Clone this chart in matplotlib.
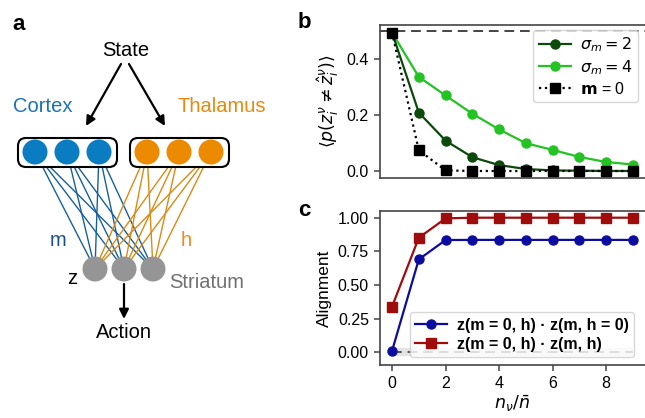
import numpy as np
import matplotlib
matplotlib.use("Agg")
import matplotlib.pyplot as plt
from matplotlib.patches import Circle, FancyBboxPatch

plt.rcParams['font.family'] = ['Liberation Sans', 'DejaVu Sans']
plt.rcParams['mathtext.fontset'] = 'dejavusans'

# ---------------- data ----------------
x_vals = [0, 1, 2, 3, 4, 5, 6, 7, 8, 9]
err_sigma2 = [0.493, 0.208, 0.108, 0.049, 0.021, 0.007, 0.002, 0.001, 0.0, 0.0]
err_sigma4 = [0.493, 0.335, 0.269, 0.204, 0.148, 0.099, 0.075, 0.050, 0.032, 0.023]
err_m0 = [0.493, 0.074, 0.002, 0.0, 0.0, 0.0, 0.0, 0.0, 0.0, 0.0]
chance_level = 0.5

align_h0 = [0.01, 0.69, 0.834, 0.835, 0.835, 0.835, 0.835, 0.835, 0.835, 0.835]
align_full = [0.339, 0.851, 0.995, 1.0, 1.0, 1.0, 1.0, 1.0, 1.0, 1.0]
baseline = 0.0

b_labels = [r'$\sigma_m = 2$', r'$\sigma_m = 4$', r'$\mathbf{m}$ = 0']
c_labels = ['z(m = 0, h) \u00b7 z(m, h = 0)', 'z(m = 0, h) \u00b7 z(m, h)']
b_yticks = [0.0, 0.2, 0.4]
c_yticks = [0.0, 0.25, 0.5, 0.75, 1.0]
x_ticks = [0, 2, 4, 6, 8]

W, H = 645, 418
fig = plt.figure(figsize=(W / 100, H / 100), dpi=100)

# ---------------- panel a (schematic) ----------------
axa = fig.add_axes([0, 0, 300 / W, 1])
axa.set_xlim(0, 300)
axa.set_ylim(H, 0)
axa.axis('off')

ctx_col = '#0a7cc2'
thal_col = '#ec8a00'
str_col = '#959595'
ctx_line = '#17609a'
thal_line = '#da8a14'

ctx_x = [35, 67, 99]
thal_x = [147, 179, 211]
top_y = 152
str_x = [95, 124, 153]
str_y = 269

for cx in ctx_x:
    for sx in str_x:
        axa.plot([cx, sx], [top_y, str_y], color=ctx_line, lw=1.0, zorder=1)
for cx in thal_x:
    for sx in str_x:
        axa.plot([cx, sx], [top_y, str_y], color=thal_line, lw=1.0, zorder=1)

for x0 in (18, 130):
    box = FancyBboxPatch((x0 + 4, 138 + 4), 99 - 8, 29 - 8,
                         boxstyle='round,pad=4,rounding_size=8',
                         fc='white', ec='black', lw=1.5, zorder=2)
    axa.add_patch(box)
for cx in ctx_x:
    axa.add_patch(Circle((cx, top_y), 12.5, fc=ctx_col, ec='none', zorder=3))
for cx in thal_x:
    axa.add_patch(Circle((cx, top_y), 12.5, fc=thal_col, ec='none', zorder=3))
for sx in str_x:
    axa.add_patch(Circle((sx, str_y), 12.5, fc=str_col, ec='none', zorder=3))

ap = dict(arrowstyle='-|>', lw=1.6, color='black', mutation_scale=14,
          shrinkA=0, shrinkB=0)
axa.annotate('', xy=(86, 126), xytext=(121, 64), arrowprops=ap)
axa.annotate('', xy=(165, 126), xytext=(129, 64), arrowprops=ap)
axa.annotate('', xy=(124, 319), xytext=(124, 284), arrowprops=ap)

fs_d = 14.5
axa.text(126, 50, 'State', ha='center', va='center', fontsize=fs_d)
axa.text(43, 106, 'Cortex', ha='center', va='center', fontsize=fs_d, color='#1a72b8')
axa.text(222, 106, 'Thalamus', ha='center', va='center', fontsize=fs_d, color='#e8890c')
axa.text(58, 241, 'm', ha='center', va='center', fontsize=fs_d, color='#1b4f8a')
axa.text(186, 241, 'h', ha='center', va='center', fontsize=fs_d, color='#f08a1a')
axa.text(72, 278, 'z', ha='center', va='center', fontsize=fs_d, color='black')
axa.text(207, 282, 'Striatum', ha='center', va='center', fontsize=fs_d, color='#707070')
axa.text(124, 332, 'Action', ha='center', va='center', fontsize=fs_d)

# ---------------- axes styling helper ----------------
spine_col = '#444444'
tick_fs = 11.5
label_fs = 12.5


def style(ax):
    ax.spines['right'].set_visible(False)
    for s in ('left', 'bottom', 'top'):
        ax.spines[s].set_color(spine_col)
        ax.spines[s].set_linewidth(1.2)
    ax.tick_params(direction='out', length=4.5, width=1.1, color=spine_col,
                   labelsize=tick_fs, labelcolor='black', top=False, right=False)


left = 380 / W
right = 1.0

# ---------------- panel b ----------------
axb = fig.add_axes([left, 1 - 178 / H, right - left, (178 - 25) / H])
style(axb)
axb.axhline(chance_level, color='#444444', lw=1.4, ls=(0, (5, 3)), zorder=1)
axb.plot(x_vals, err_sigma2, '-o', color='#0b4a0b', lw=1.6, ms=6.5, label=b_labels[0], zorder=3)
axb.plot(x_vals, err_sigma4, '-o', color='#22c322', lw=1.6, ms=6.5, label=b_labels[1], zorder=2)
axb.plot(x_vals, err_m0, ':s', color='black', lw=1.6, ms=6.5, label=b_labels[2], zorder=4)
axb.set_xlim(-0.45, 9.45)
axb.set_ylim(-0.025, 0.52)
axb.set_yticks(b_yticks)
axb.set_yticklabels(['0.0', '0.2', '0.4'])
axb.set_xticks(x_ticks)
axb.tick_params(axis='x', labelbottom=False, length=0)
axb.set_ylabel(r'$\langle p(z_i^\nu \neq \hat{z}_i^\nu)\rangle$', fontsize=label_fs)
axb.legend(loc='upper right', bbox_to_anchor=(0.975, 0.97), borderaxespad=0,
           fontsize=tick_fs, handlelength=2.0, labelspacing=0.25,
           handletextpad=0.6, borderpad=0.35)

# ---------------- panel c ----------------
axc = fig.add_axes([left, 1 - 365 / H, right - left, (365 - 210.7) / H])
style(axc)
axc.fill_between([0, 9], [-0.03, -0.03], [0.03, 0.03], color='#bbbbbb', alpha=0.4, lw=0, zorder=1)
axc.axhline(baseline, xmin=0.045, xmax=0.955, color='#555555', lw=1.4, ls=(0, (5, 3)), zorder=1)
axc.plot(x_vals, align_h0, '-o', color='#0c0ca0', lw=1.6, ms=6.5, label=c_labels[0], zorder=3)
axc.plot(x_vals, align_full, '-s', color='#a00c0c', lw=1.6, ms=6.5, label=c_labels[1], zorder=3)
axc.set_xlim(-0.45, 9.45)
axc.set_ylim(-0.095, 1.052)
axc.set_yticks(c_yticks)
axc.set_yticklabels(['0.00', '0.25', '0.50', '0.75', '1.00'])
axc.set_xticks(x_ticks)
axc.set_ylabel('Alignment', fontsize=label_fs)
axc.set_xlabel(r'$n_\nu/\bar{n}$', fontsize=label_fs, labelpad=2)
axc.legend(loc='lower right', bbox_to_anchor=(0.96, 0.05), borderaxespad=0,
           prop={'weight': 'bold', 'size': tick_fs}, handlelength=2.0,
           labelspacing=0.25, handletextpad=0.6, borderpad=0.35)

# ---------------- panel letters ----------------
fig.text(12 / W, 1 - 24 / H, 'a', fontsize=16, fontweight='bold', ha='left', va='center')
fig.text(298 / W, 1 - 22 / H, 'b', fontsize=16, fontweight='bold', ha='left', va='center')
fig.text(298 / W, 1 - 211 / H, 'c', fontsize=16, fontweight='bold', ha='left', va='center')

fig.savefig('out.png', dpi=100)
